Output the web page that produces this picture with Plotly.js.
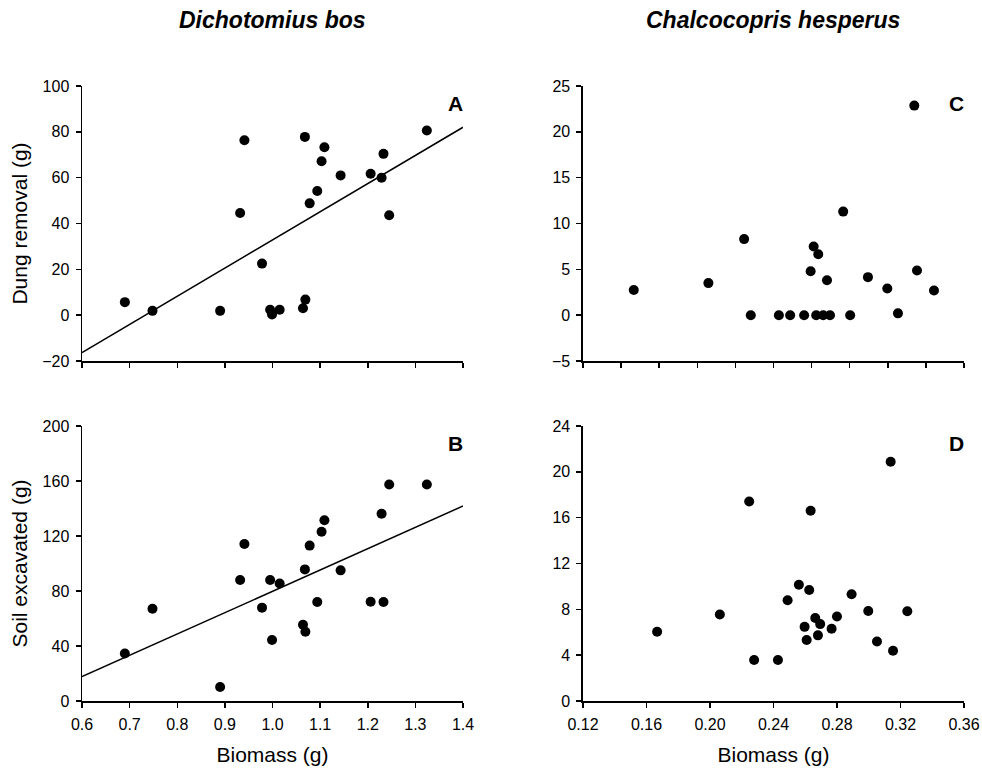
<!DOCTYPE html>
<html>
<head>
<meta charset="utf-8">
<script src="https://cdn.plot.ly/plotly-3.0.1.min.js"></script>
<style>html,body{margin:0;padding:0;background:#fff;}#chart{width:982px;height:771px;}</style>
</head>
<body>
<div id="chart"></div>
<script>
// Dichotomius bos
const bosBiomass = [0.690, 0.748, 0.890, 0.932, 0.941, 0.978, 0.995, 0.999, 1.015, 1.064, 1.069, 1.068, 1.078, 1.094, 1.103, 1.109, 1.143, 1.206, 1.229, 1.233, 1.245, 1.324];
const bosDung = [5.7, 1.9, 1.9, 44.6, 76.3, 22.5, 2.4, 0.3, 2.4, 3.0, 6.8, 77.8, 48.8, 54.2, 67.2, 73.3, 61.0, 61.7, 60.0, 70.4, 43.6, 80.6];
const bosSoil = [34.6, 67.1, 10.2, 88.0, 114.2, 67.9, 88.0, 44.4, 85.5, 55.5, 50.4, 95.7, 113.0, 72.0, 123.1, 131.4, 95.0, 72.2, 136.2, 72.0, 157.5, 157.5];
const bosFitX = [0.6, 1.4];
const bosDungFit = [-16.3, 82.0];
const bosSoilFit = [17.7, 141.8];

// Chalcocopris hesperus
const hespBiomassC = [0.152, 0.199, 0.2215, 0.2257, 0.2434, 0.2505, 0.2593, 0.2634, 0.2653, 0.2669, 0.2682, 0.2713, 0.2737, 0.2756, 0.2839, 0.2883, 0.2995, 0.3117, 0.3184, 0.3287, 0.3304, 0.3411];
const hespDung = [2.74, 3.5, 8.3, 0, 0, 0, 0, 4.8, 7.5, 0, 6.64, 0, 3.82, 0, 11.3, 0, 4.15, 2.92, 0.2, 22.86, 4.87, 2.7];
const hespBiomassD = [0.1667, 0.2062, 0.2247, 0.2278, 0.2428, 0.2489, 0.2560, 0.2596, 0.2609, 0.2625, 0.2634, 0.2663, 0.2680, 0.2694, 0.2766, 0.2800, 0.2892, 0.2997, 0.3052, 0.3138, 0.3153, 0.3243];
const hespSoil = [6.04, 7.55, 17.41, 3.58, 3.58, 8.79, 10.15, 6.47, 5.32, 9.68, 16.6, 7.25, 5.73, 6.71, 6.30, 7.37, 9.31, 7.86, 5.2, 20.88, 4.39, 7.84];

const speciesTitles = ['Dichotomius bos', 'Chalcocopris hesperus'];
const panelLetters = ['A', 'C', 'B', 'D'];
const yTitles = ['Dung removal (g)', 'Soil excavated (g)'];
const xTitle = 'Biomass (g)';

const FONT = 'Liberation Sans, Arial, sans-serif';
const marker = {color: '#000', size: 10};
const pts = (x, y, xa, ya) => ({type: 'scatter', mode: 'markers', x: x, y: y, xaxis: xa, yaxis: ya, marker: marker, hoverinfo: 'x+y'});
const fit = (x, y, xa, ya) => ({type: 'scatter', mode: 'lines', x: x, y: y, xaxis: xa, yaxis: ya, line: {color: '#000', width: 1.5}});

const data = [
  fit(bosFitX, bosDungFit, 'x', 'y'),
  pts(bosBiomass, bosDung, 'x', 'y'),
  pts(hespBiomassC, hespDung, 'x2', 'y2'),
  fit(bosFitX, bosSoilFit, 'x3', 'y3'),
  pts(bosBiomass, bosSoil, 'x3', 'y3'),
  pts(hespBiomassD, hespSoil, 'x4', 'y4')
];

const axBase = {
  showline: true, linecolor: '#000', linewidth: 1.5,
  ticks: 'outside', ticklen: 5, tickwidth: 1.5, tickcolor: '#000',
  showgrid: false, zeroline: false,
  tickfont: {family: FONT, size: 16, color: '#000'},
  ticklabelstandoff: 3, fixedrange: true
};
const ax = (o) => Object.assign({}, axBase, o);
const titleFont = {family: FONT, size: 21, color: '#000'};

const leftDom = [0, 0.432];
const rightDom = [0.568, 1];
const topDom = [0.5528, 1];
const botDom = [0, 0.4472];

const layout = {
  width: 982, height: 771,
  margin: {l: 82, r: 18, t: 86, b: 70},
  paper_bgcolor: '#fff', plot_bgcolor: '#fff',
  showlegend: false,
  font: {family: FONT, color: '#000'},
  xaxis: ax({domain: leftDom, anchor: 'y', range: [0.6, 1.4], tick0: 0.6, dtick: 0.1, showticklabels: false}),
  yaxis: ax({domain: topDom, anchor: 'x', range: [-20, 100], tick0: -20, dtick: 20,
    title: {text: yTitles[0], font: titleFont, standoff: 9}}),
  xaxis2: ax({domain: rightDom, anchor: 'y2', range: [0.12, 0.36], tick0: 0.12, dtick: 0.024, showticklabels: false}),
  yaxis2: ax({domain: topDom, anchor: 'x2', range: [-5, 25], tick0: -5, dtick: 5}),
  xaxis3: ax({domain: leftDom, anchor: 'y3', range: [0.6, 1.4], tick0: 0.6, dtick: 0.1, tickformat: '.1f',
    title: {text: xTitle, font: titleFont, standoff: 15}}),
  yaxis3: ax({domain: botDom, anchor: 'x3', range: [0, 200], tick0: 0, dtick: 40,
    title: {text: yTitles[1], font: titleFont, standoff: 9}}),
  xaxis4: ax({domain: rightDom, anchor: 'y4', range: [0.12, 0.36], tick0: 0.12, dtick: 0.04, tickformat: '.2f',
    title: {text: xTitle, font: titleFont, standoff: 15}}),
  yaxis4: ax({domain: botDom, anchor: 'x4', range: [0, 24], tick0: 0, dtick: 4}),
  annotations: [
    {text: '<b><i>' + speciesTitles[0] + '</i></b>', xref: 'paper', yref: 'paper', x: (leftDom[0] + leftDom[1]) / 2, y: 1.107,
      xanchor: 'center', yanchor: 'middle', showarrow: false, font: {family: FONT, size: 23, color: '#000'}},
    {text: '<b><i>' + speciesTitles[1] + '</i></b>', xref: 'paper', yref: 'paper', x: (rightDom[0] + rightDom[1]) / 2, y: 1.107,
      xanchor: 'center', yanchor: 'middle', showarrow: false, font: {family: FONT, size: 23, color: '#000'}},
    {text: '<b>' + panelLetters[0] + '</b>', xref: 'x domain', yref: 'y domain', x: 1.005, y: 0.985, xanchor: 'right', yanchor: 'top', showarrow: false, font: {family: FONT, size: 21, color: '#000'}},
    {text: '<b>' + panelLetters[1] + '</b>', xref: 'x2 domain', yref: 'y2 domain', x: 1.005, y: 0.985, xanchor: 'right', yanchor: 'top', showarrow: false, font: {family: FONT, size: 21, color: '#000'}},
    {text: '<b>' + panelLetters[2] + '</b>', xref: 'x3 domain', yref: 'y3 domain', x: 1.005, y: 0.985, xanchor: 'right', yanchor: 'top', showarrow: false, font: {family: FONT, size: 21, color: '#000'}},
    {text: '<b>' + panelLetters[3] + '</b>', xref: 'x4 domain', yref: 'y4 domain', x: 1.005, y: 0.985, xanchor: 'right', yanchor: 'top', showarrow: false, font: {family: FONT, size: 21, color: '#000'}}
  ]
};

Plotly.newPlot('chart', data, layout, {displayModeBar: false, staticPlot: true});
</script>
</body>
</html>
